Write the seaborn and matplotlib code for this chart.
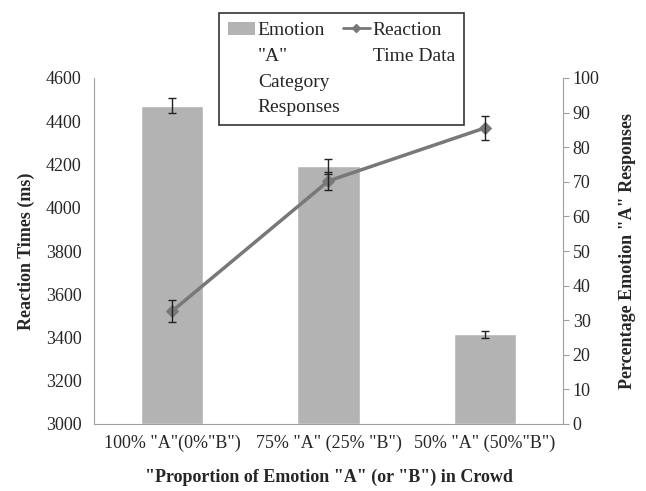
import numpy as np
import pandas as pd
import matplotlib
matplotlib.use('Agg')
import matplotlib.pyplot as plt
import seaborn as sns
from matplotlib.patches import Patch
from matplotlib.lines import Line2D

# values
conditions = ['100% "A"(0%"B")', '75% "A" (25% "B")', '50% "A" (50%"B")']
pct_a = [92.0, 74.5, 26.0]
pct_err = [2.2, 2.2, 1.0]
rt_ms = [3522, 4124, 4369]
rt_err = [50, 42, 55]

sns.set_style('ticks')
plt.rcParams['font.family'] = ['Liberation Serif', 'DejaVu Serif']

bar_col = '#b3b3b3'
line_col = '#787878'
spine_col = '#a0a0a0'

fig = plt.figure(figsize=(6.46, 4.91), dpi=100)
ax = fig.add_axes([94 / 646, 1 - 424 / 491, (563 - 94) / 646, (424 - 78) / 491])

df = pd.DataFrame({'cond': conditions, 'pct': pct_a})
sns.barplot(data=df, x='cond', y='pct', color=bar_col, saturation=1, width=0.4, ax=ax)
ax.errorbar(np.arange(3), pct_a, yerr=pct_err, fmt='none', ecolor='#222222',
            elinewidth=1, capsize=3, capthick=1)

# twin axis for the reaction times (drawn on top of the bars)
ax2 = ax.twinx()
sns.lineplot(x=np.arange(3), y=rt_ms, ax=ax2, color=line_col, lw=2.5, marker='D',
             markersize=6, markeredgecolor=line_col, sort=False)
ax2.errorbar(np.arange(3), rt_ms, yerr=rt_err, fmt='none', ecolor='#222222',
             elinewidth=1, capsize=3, capthick=1)

# percentage axis goes on the right (after twinx, which resets it)
ax.set_ylim(0, 100)
ax.set_yticks(range(0, 101, 10))
ax.yaxis.tick_right()
ax.yaxis.set_label_position('right')
ax.set_ylabel('Percentage Emotion "A" Responses', fontsize=13, fontweight='bold', labelpad=14)
ax.set_xlabel('"Proportion of Emotion "A" (or "B") in Crowd', fontsize=13,
              fontweight='bold', labelpad=12)
ax.tick_params(axis='y', length=4, color=spine_col, labelsize=13, pad=3)
ax.tick_params(axis='x', length=0, labelsize=13, pad=8)
for s in ['left', 'bottom', 'right']:
    ax.spines[s].set_visible(True)
    ax.spines[s].set_color(spine_col)
ax.spines['top'].set_visible(False)

ax2.set_ylim(3000, 4600)
ax2.set_yticks(range(3000, 4601, 200))
ax2.yaxis.tick_left()
ax2.yaxis.set_label_position('left')
ax2.set_ylabel('Reaction Times (ms)', fontsize=13, fontweight='bold', labelpad=8)
ax2.tick_params(axis='y', length=0, labelsize=13, pad=9)
for s in ax2.spines.values():
    s.set_visible(False)
ax.set_xlim(-0.5, 2.5)

blank = Patch(facecolor='none', edgecolor='none')
handles = [Patch(facecolor=bar_col, edgecolor='none'), blank, blank, blank,
           Line2D([], [], color=line_col, lw=2, marker='D', markersize=4), blank, blank, blank]
labels = ['Emotion', '"A"', 'Category', 'Responses', 'Reaction', 'Time Data', '', '']
leg = fig.legend(handles, labels, ncol=2, loc='upper left', bbox_to_anchor=(0.339, 0.974),
                 borderaxespad=0, fontsize=14, frameon=True, fancybox=False,
                 edgecolor='black', labelspacing=0.42, handlelength=1.4,
                 handletextpad=0.15, columnspacing=0.1, borderpad=0.45)
leg.get_frame().set_linewidth(1.2)

fig.savefig('out.png', dpi=100)
